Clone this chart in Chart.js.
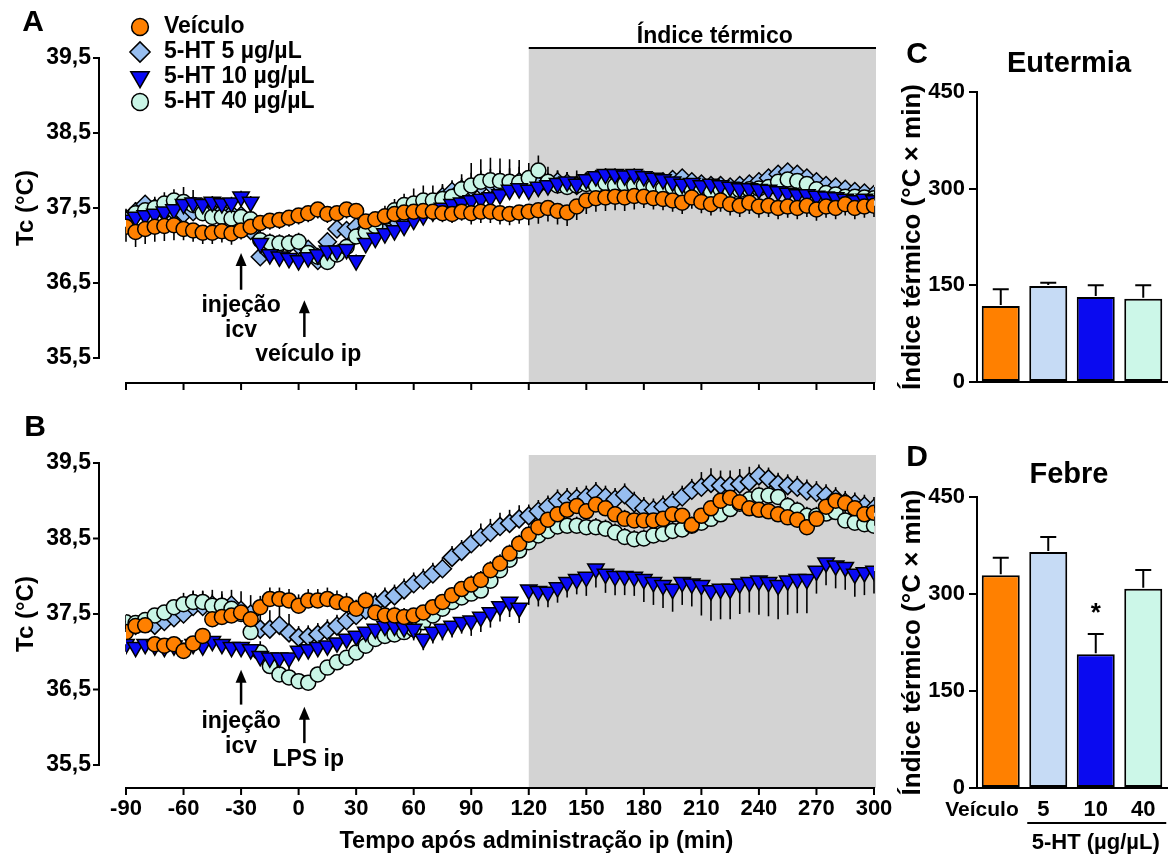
<!DOCTYPE html>
<html>
<head>
<meta charset="utf-8">
<script src="https://cdn.jsdelivr.net/npm/chart.js@4.4.0/dist/chart.umd.min.js"></script>
<style>
  body { margin: 0; background: #fff; width: 1172px; height: 857px; position: relative; overflow: hidden; }
  canvas { position: absolute; }
</style>
</head>
<body>
<canvas id="chartA" width="900" height="400" style="left:0;top:0"></canvas>
<canvas id="chartB" width="900" height="457" style="left:0;top:400px"></canvas>
<canvas id="chartC" width="292" height="400" style="left:880px;top:0"></canvas>
<canvas id="chartD" width="292" height="457" style="left:880px;top:400px"></canvas>
<script>
// tempo apos administracao ip (min), uma leitura a cada 5 min
var tempo = [-90,-85,-80,-75,-70,-65,-60,-55,-50,-45,-40,-35,-30,-25,-20,-15,-10,-5,
  0,5,10,15,20,25,30,35,40,45,50,55,60,65,70,75,80,85,90,95,100,105,110,115,
  120,125,130,135,140,145,150,155,160,165,170,175,180,185,190,195,200,205,
  210,215,220,225,230,235,240,245,250,255,260,265,270,275,280,285,290,295,300];
var xTicks = [-90,-60,-30,0,30,60,90,120,150,180,210,240,270,300];
var yTicks = [35.5,36.5,37.5,38.5,39.5];

// A - eutermia (veiculo ip)
var veiculoA = [
  37.25,37.18,37.22,37.25,37.26,37.27, 37.22,37.20,37.17,37.17,37.19,37.16,
  37.20,37.25,37.30,37.33,37.34,37.37, 37.40,37.43,37.48,37.42,37.43,37.48,
  37.46,37.32,37.35,37.39,37.42,37.44, 37.45,37.46,37.45,37.43,37.42,37.45,
  37.43,37.45,37.45,37.43,37.42,37.44, 37.45,37.47,37.50,37.46,37.44,37.52,
  37.60,37.63,37.64,37.65,37.64,37.66, 37.65,37.63,37.62,37.60,37.57,37.64,
  37.58,37.55,37.60,37.55,37.53,37.57, 37.52,37.53,37.50,37.52,37.50,37.53,
  37.48,37.52,37.50,37.55,37.50,37.52, 37.53];
var ht5A = [
  37.35,37.45,37.55,37.50,37.45,37.45, 37.42,37.45,37.48,37.45,37.45,37.42,
  37.40,37.20,36.85,36.90,37.00,37.02, 37.00,36.95,36.80,37.05,37.22,37.20,
  37.25,37.22,37.28,37.32,37.35,37.40, 37.45,37.50,37.55,37.65,37.72,37.75,
  37.77,37.80,37.82,37.80,37.83,37.85, 37.85,37.80,37.82,37.85,37.83,37.80,
  37.85,37.88,37.90,37.88,37.85,37.86, 37.85,37.83,37.85,37.88,37.90,37.85,
  37.82,37.80,37.80,37.78,37.80,37.82, 37.85,37.90,37.95,37.98,37.95,37.90,
  37.85,37.80,37.78,37.75,37.72,37.70, 37.68];
var ht10A = [
  37.34,37.38,37.40,37.42,37.45,37.48, 37.55,37.57,37.55,37.58,37.56,37.57,
  37.65,37.58,37.03,36.88,36.85,36.83, 36.80,36.84,36.88,36.93,36.93,36.95,
  36.80,37.03,37.10,37.16,37.20,37.26, 37.34,37.40,37.45,37.50,37.55,37.57,
  37.60,37.62,37.64,37.68,37.74,37.76, 37.74,37.78,37.80,37.83,37.85,37.82,
  37.88,37.92,37.95,37.95,37.93,37.95, 37.92,37.90,37.88,37.85,37.82,37.83,
  37.80,37.82,37.80,37.78,37.76,37.76, 37.75,37.74,37.72,37.70,37.68,37.68,
  37.66,37.65,37.64,37.62,37.60,37.62, 37.60];
var ht40A = [
  37.34,37.43,37.47,37.50,37.56,37.60, 37.58,37.54,37.43,37.38,37.38,37.36,
  37.38,37.35,37.07,37.04,37.03,37.03, 37.05,36.90,36.85,36.78,36.88,36.98,
  37.12,37.18,37.26,37.38,37.47,37.54, 37.56,37.60,37.60,37.62,37.65,37.75,
  37.80,37.85,37.87,37.86,37.85,37.84, 37.90,38.00,37.85,37.80,37.78,37.80,
  37.82,37.80,37.83,37.80,37.82,37.80, 37.80,37.78,37.76,37.78,37.75,37.74,
  37.74,37.72,37.75,37.72,37.74,37.75, 37.76,37.78,37.85,37.88,37.86,37.82,
  37.75,37.70,37.68,37.65,37.65,37.64, 37.63];

// B - febre (LPS ip)
var veiculoB = [
  37.26,37.34,37.35,37.10,37.08,37.10, 37.01,37.11,37.21,37.43,37.46,37.48,
  37.52,37.43,37.59,37.70,37.70,37.68, 37.61,37.68,37.68,37.70,37.66,37.63,
  37.57,37.68,37.52,37.48,37.48,37.46, 37.48,37.52,37.59,37.66,37.75,37.83,
  37.89,37.95,38.08,38.17,38.30,38.43, 38.55,38.65,38.75,38.82,38.88,38.93,
  38.86,38.95,38.90,38.82,38.76,38.74, 38.74,38.74,38.76,38.82,38.80,38.68,
  38.80,38.90,39.00,39.04,38.98,38.90, 38.88,38.86,38.82,38.78,38.75,38.65,
  38.76,38.92,39.00,38.97,38.90,38.82, 38.84];
var ht5B = [
  37.30,37.35,37.38,37.35,37.40,37.45, 37.50,37.60,37.60,37.62,37.60,37.62,
  37.55,37.50,37.30,37.30,37.35,37.25, 37.19,37.20,37.23,37.28,37.34,37.41,
  37.48,37.55,37.63,37.70,37.74,37.82, 37.90,37.95,38.03,38.10,38.25,38.33,
  38.43,38.52,38.58,38.66,38.70,38.76, 38.80,38.86,38.92,39.00,39.02,39.03,
  39.05,39.10,39.05,39.02,39.08,38.97, 38.90,38.88,38.92,38.98,39.05,39.14,
  39.18,39.23,39.20,39.20,39.22,39.25, 39.33,39.29,39.22,39.20,39.18,39.13,
  39.11,39.07,39.03,38.98,38.96,38.93, 38.90];
var ht10B = [
  37.10,37.06,37.10,37.08,37.06,37.08, 37.05,37.10,37.08,37.14,37.10,37.06,
  37.06,37.03,36.94,36.92,36.92,36.92, 37.01,37.03,37.06,37.08,37.12,37.17,
  37.21,37.26,37.30,37.34,37.34,37.32, 37.30,37.17,37.26,37.30,37.34,37.39,
  37.41,37.46,37.52,37.60,37.66,37.58, 37.82,37.80,37.79,37.85,37.92,37.96,
  37.99,38.10,38.03,38.00,38.00,37.99, 37.96,37.92,37.88,37.83,37.92,37.90,
  37.88,37.81,37.83,37.83,37.90,37.92, 37.94,37.92,37.88,37.94,37.96,37.96,
  38.07,38.18,38.14,38.12,38.03,38.05, 38.07];
var ht40B = [
  37.39,37.38,37.42,37.48,37.52,37.59, 37.63,37.66,37.66,37.61,37.61,37.57,
  37.50,37.26,36.99,36.81,36.70,36.66, 36.61,36.59,36.70,36.79,36.86,36.92,
  36.99,37.08,37.17,37.21,37.23,37.26, 37.30,37.39,37.48,37.57,37.66,37.72,
  37.77,37.81,37.94,38.08,38.22,38.34, 38.45,38.54,38.60,38.66,38.67,38.67,
  38.65,38.65,38.63,38.58,38.52,38.49, 38.50,38.54,38.56,38.60,38.62,38.67,
  38.71,38.76,38.82,38.89,38.96,39.02, 39.07,39.07,39.05,38.93,38.87,38.80,
  38.80,38.83,38.85,38.74,38.71,38.69, 38.67];

// EPM por bloco de 30 min (13 blocos)
var epmA = [
  [0.20,0.15,0.12,0.12,0.12,0.12,0.15,0.18,0.18,0.15,0.15,0.15,0.15],
  [0.12,0.12,0.10,0.10,0.12,0.15,0.20,0.15,0.12,0.10,0.10,0.12,0.10],
  [0.08,0.08,0.08,0.08,0.08,0.10,0.10,0.10,0.08,0.08,0.08,0.08,0.08],
  [0.15,0.20,0.12,0.12,0.15,0.20,0.30,0.20,0.12,0.10,0.12,0.15,0.10]];
var epmB = [
  [0.10,0.10,0.15,0.15,0.12,0.10,0.12,0.12,0.12,0.10,0.10,0.10,0.10],
  [0.10,0.20,0.25,0.15,0.15,0.15,0.18,0.15,0.15,0.15,0.20,0.15,0.15],
  [0.10,0.10,0.10,0.10,0.10,0.15,0.20,0.20,0.25,0.30,0.40,0.45,0.30],
  [0.10,0.15,0.15,0.10,0.10,0.10,0.12,0.12,0.12,0.12,0.12,0.12,0.12]];

// C e D - indice termico
var grupos = ["Veículo", "5", "10", "40"];
var eutermia = [118, 149, 132, 129];
var eutermiaEpm = [26, 5, 18, 21];
var febre = [329, 365, 207, 308];
var febreEpm = [27, 23, 31, 29];
var barTicks = [0, 150, 300, 450];

var FONTE = "'Liberation Sans', Arial, Helvetica, sans-serif";
Chart.defaults.font.family = FONTE;
Chart.defaults.font.weight = "bold";
Chart.defaults.color = "#000";

var estilos = [
  { label: "Veículo", cor: "#FF8000", forma: "circle", r: 7.5, rot: 0 },
  { label: "5-HT 5 µg/µL", cor: "#97BEF0", forma: "rectRot", r: 9, rot: 0 },
  { label: "5-HT 10 µg/µL", cor: "#0A0AF5", forma: "triangle", r: 9.5, rot: 180 },
  { label: "5-HT 40 µg/µL", cor: "#C9F5E6", forma: "circle", r: 7.5, rot: 0 },
];
var coresBarras = ["#FF8000", "#C6DBF5", "#0A0AF0", "#CCF7E8"];

function texto(ctx, s, x, y, size, align) {
  ctx.save();
  ctx.fillStyle = "#000";
  ctx.font = "bold " + size + "px " + FONTE;
  ctx.textAlign = align || "center";
  ctx.textBaseline = "middle";
  ctx.fillText(s, x, y);
  ctx.restore();
}

function marcador(ctx, e, x, y, k) {
  var r = e.r * k;
  ctx.save();
  ctx.fillStyle = e.cor;
  ctx.strokeStyle = "#000";
  ctx.lineWidth = 1.5;
  ctx.beginPath();
  if (e.forma == "circle") {
    ctx.arc(x, y, r, 0, Math.PI * 2);
  } else if (e.forma == "rectRot") {
    ctx.moveTo(x - r, y); ctx.lineTo(x, y - r); ctx.lineTo(x + r, y); ctx.lineTo(x, y + r);
    ctx.closePath();
  } else {
    var h = r * Math.sin(Math.PI / 3);
    ctx.moveTo(x, y + r); ctx.lineTo(x - h, y - r / 2); ctx.lineTo(x + h, y - r / 2);
    ctx.closePath();
  }
  ctx.fill();
  ctx.stroke();
  ctx.restore();
}

function seta(ctx, x, yTopo, yBase) {
  ctx.save();
  ctx.strokeStyle = "#000";
  ctx.fillStyle = "#000";
  ctx.lineWidth = 2.5;
  ctx.beginPath(); ctx.moveTo(x, yBase); ctx.lineTo(x, yTopo + 10); ctx.stroke();
  ctx.beginPath(); ctx.moveTo(x, yTopo); ctx.lineTo(x - 5.5, yTopo + 13); ctx.lineTo(x + 5.5, yTopo + 13);
  ctx.closePath(); ctx.fill();
  ctx.restore();
}

function linha(id, series, epm, dir, cfg) {
  var ordem = [0, 3, 1, 2];
  var painel = {
    id: "painel",
    beforeDatasetsDraw: function (chart) {
      var ctx = chart.ctx, xs = chart.scales.x, ys = chart.scales.y, a = chart.chartArea;
      // faixa do indice termico
      ctx.save();
      ctx.fillStyle = "#D3D3D3";
      var x0 = xs.getPixelForValue(120), x1 = xs.getPixelForValue(300) + 2;
      var y0 = ys.getPixelForValue(39.5) - cfg.cinza, y1 = a.bottom + cfg.xoff;
      ctx.fillRect(x0, y0, x1 - x0, y1 - y0);
      // barras de erro
      ctx.strokeStyle = "#000";
      ctx.lineWidth = 1.6;
      series.forEach(function (s, k) {
        s.forEach(function (v, i) {
          var e = epm[k][Math.min(12, Math.floor(i / 6))];
          var x = xs.getPixelForValue(tempo[i]);
          ctx.beginPath();
          ctx.moveTo(x, ys.getPixelForValue(v));
          ctx.lineTo(x, ys.getPixelForValue(v + dir[k] * e));
          ctx.stroke();
        });
      });
      ctx.restore();
    },
    afterDraw: function (chart) {
      var ctx = chart.ctx, xs = chart.scales.x, ys = chart.scales.y, a = chart.chartArea;
      ctx.save();
      ctx.strokeStyle = "#000";
      ctx.lineWidth = 2;
      // eixo y separado
      var ax = a.left - 27;
      ctx.beginPath();
      ctx.moveTo(ax, ys.getPixelForValue(39.5) - 1);
      ctx.lineTo(ax, ys.getPixelForValue(35.5) + 1);
      yTicks.forEach(function (v) {
        var y = ys.getPixelForValue(v);
        ctx.moveTo(ax, y); ctx.lineTo(ax - 6, y);
      });
      // eixo x separado
      var ay = a.bottom + cfg.xoff;
      ctx.moveTo(xs.getPixelForValue(-90) - 1, ay);
      ctx.lineTo(xs.getPixelForValue(300) + 1, ay);
      xTicks.forEach(function (t) {
        var x = xs.getPixelForValue(t);
        ctx.moveTo(x, ay); ctx.lineTo(x, ay + 7);
      });
      ctx.stroke();
      if (cfg.indice) {
        var yl = ys.getPixelForValue(39.5) - cfg.cinza;
        ctx.beginPath();
        ctx.moveTo(xs.getPixelForValue(120), yl);
        ctx.lineTo(xs.getPixelForValue(300) + 2, yl);
        ctx.stroke();
        texto(ctx, "Índice térmico", xs.getPixelForValue(217), yl - 11, 23);
      }
      ctx.restore();
      if (cfg.rotulosX) {
        texto(ctx, "Tempo após administração ip (min)", xs.getPixelForValue(124), a.bottom + 77, 23.5);
      }
      // setas
      seta(ctx, xs.getPixelForValue(-30), ys.getPixelForValue(cfg.seta1[0]), ys.getPixelForValue(cfg.seta1[1]));
      texto(ctx, "injeção", xs.getPixelForValue(-30), ys.getPixelForValue(cfg.seta1[2]), 23);
      texto(ctx, "icv", xs.getPixelForValue(-30), ys.getPixelForValue(cfg.seta1[3]), 23);
      seta(ctx, xs.getPixelForValue(3), ys.getPixelForValue(cfg.seta2[0]), ys.getPixelForValue(cfg.seta2[1]));
      texto(ctx, cfg.rotulo2, xs.getPixelForValue(5), ys.getPixelForValue(cfg.seta2[2]), 23);
      // letra do painel
      texto(ctx, cfg.letra, cfg.letraPos[0], cfg.letraPos[1], 30);
      if (cfg.legenda) {
        estilos.forEach(function (e, k) {
          var y = 27 + k * 25;
          marcador(ctx, e, 140, y, 1.12);
          texto(ctx, e.label, 164, y, 23, "left");
        });
      }
    }
  };
  return new Chart(document.getElementById(id), {
    type: "line",
    data: {
      datasets: series.map(function (s, k) {
        return {
          label: estilos[k].label,
          data: tempo.map(function (t, i) { return { x: t, y: s[i] }; }),
          showLine: false,
          pointStyle: estilos[k].forma,
          pointRadius: estilos[k].r,
          pointRotation: estilos[k].rot,
          pointBackgroundColor: estilos[k].cor,
          pointBorderColor: "#000",
          pointBorderWidth: 1.5,
          order: ordem[k],
        };
      }),
    },
    options: {
      animation: false,
      responsive: false,
      devicePixelRatio: 1,
      events: [],
      layout: { padding: { left: 0, right: 26, top: cfg.top, bottom: 0 } },
      plugins: { legend: { display: false }, tooltip: { enabled: false } },
      scales: {
        x: {
          type: "linear",
          min: -90,
          max: 300,
          afterBuildTicks: function (s) { s.ticks = xTicks.map(function (v) { return { value: v }; }); },
          afterFit: function (s) { s.height = cfg.xh; },
          grid: { display: false, drawTicks: true, tickLength: 27 },
          border: { display: false },
          ticks: { display: cfg.rotulosX, padding: 4, maxRotation: 0, autoSkip: false, font: { size: 22, weight: "bold" } },
        },
        y: {
          min: 35.5,
          max: 39.5,
          afterBuildTicks: function (s) { s.ticks = yTicks.map(function (v) { return { value: v }; }); },
          afterFit: function (s) { s.width = 126; },
          grid: { display: false, drawTicks: true, tickLength: 31 },
          border: { display: false },
          ticks: {
            padding: 4,
            font: { size: 23, weight: "bold" },
            callback: function (v) { return v.toFixed(1).replace(".", ","); },
          },
          title: { display: true, text: "Tc (°C)", font: { size: 24, weight: "bold" }, padding: { top: 12 } },
        },
      },
    },
    plugins: [painel],
  });
}

function barras(id, valores, epm, cfg) {
  var extra = {
    id: "extra",
    afterDatasetsDraw: function (chart) {
      var ctx = chart.ctx, xs = chart.scales.x, ys = chart.scales.y, a = chart.chartArea;
      ctx.save();
      ctx.strokeStyle = "#000";
      ctx.lineWidth = 2;
      valores.forEach(function (v, i) {
        var x = xs.getPixelForValue(i);
        var yt = ys.getPixelForValue(v + epm[i]);
        ctx.beginPath();
        ctx.moveTo(x, ys.getPixelForValue(v) - 1);
        ctx.lineTo(x, yt);
        ctx.moveTo(x - 8, yt);
        ctx.lineTo(x + 8, yt);
        ctx.stroke();
      });
      ctx.restore();
      var cx = (a.left + a.right) / 2;
      texto(ctx, cfg.titulo, cx - 3, cfg.tituloY, 29);
      texto(ctx, cfg.letra, 37, cfg.letraY, 30);
      if (cfg.rotulos) {
        var yl = a.bottom + 22;
        texto(ctx, grupos[0], xs.getPixelForValue(0) + 18, yl, 21, "right");
        texto(ctx, grupos[1], xs.getPixelForValue(1) - 5, yl, 22);
        texto(ctx, grupos[2], xs.getPixelForValue(2), yl, 22);
        texto(ctx, grupos[3], xs.getPixelForValue(3), yl, 22);
        ctx.save();
        ctx.strokeStyle = "#000";
        ctx.lineWidth = 2;
        ctx.beginPath();
        ctx.moveTo(xs.getPixelForValue(1) - 21, a.bottom + 35);
        ctx.lineTo(xs.getPixelForValue(3) + 23, a.bottom + 35);
        ctx.stroke();
        ctx.restore();
        texto(ctx, "5-HT (µg/µL)", (xs.getPixelForValue(1) + xs.getPixelForValue(3)) / 2, a.bottom + 55, 22);
        var ys2 = ys.getPixelForValue(valores[2] + epm[2]) - 20;
        texto(ctx, "*", xs.getPixelForValue(2), ys2, 26);
      }
    },
  };
  return new Chart(document.getElementById(id), {
    type: "bar",
    data: {
      labels: grupos,
      datasets: [{
        data: valores,
        backgroundColor: coresBarras,
        borderColor: "#000",
        borderWidth: 2,
        borderSkipped: false,
        barPercentage: 0.8,
        categoryPercentage: 1,
      }],
    },
    options: {
      animation: false,
      responsive: false,
      devicePixelRatio: 1,
      events: [],
      layout: { padding: { left: 0, right: 5, top: cfg.top, bottom: 0 } },
      plugins: { legend: { display: false }, tooltip: { enabled: false } },
      scales: {
        x: {
          afterFit: function (s) { s.height = cfg.xh; },
          grid: { display: false },
          border: { display: true, color: "#000", width: 2 },
          ticks: { display: false },
        },
        y: {
          min: 0,
          max: 450,
          afterBuildTicks: function (s) { s.ticks = barTicks.map(function (v) { return { value: v }; }); },
          afterFit: function (s) { s.width = 97; },
          grid: { display: true, drawOnChartArea: false, drawTicks: true, tickLength: 8, color: "#000", lineWidth: 2 },
          border: { display: true, color: "#000", width: 2 },
          ticks: { padding: 4, font: { size: 22, weight: "bold" } },
          title: { display: true, text: "Índice térmico (°C × min)", font: { size: 26, weight: "bold" }, padding: { top: 17 } },
        },
      },
    },
    plugins: [extra],
  });
}

var chartA = linha("chartA", [veiculoA, ht5A, ht10A, ht40A], epmA, [-1, 1, 1, 1], {
  top: 58, xh: 42, xoff: 25, cinza: 10, indice: true, rotulosX: false,
  seta1: [36.9, 36.41, 36.2, 35.87], seta2: [36.27, 35.78, 35.54], rotulo2: "veículo ip",
  letra: "A", letraPos: [33, 23], legenda: true,
});
var chartB = linha("chartB", [veiculoB, ht5B, ht10B, ht40B], epmB, [1, 1, -1, 1], {
  top: 63, xh: 92, xoff: 23, cinza: 8, indice: false, rotulosX: true,
  seta1: [36.76, 36.3, 36.08, 35.74], seta2: [36.27, 35.79, 35.57], rotulo2: "LPS ip",
  letra: "B", letraPos: [35, 28], legenda: false,
});
var chartC = barras("chartC", eutermia, eutermiaEpm, {
  top: 92, xh: 18, titulo: "Eutermia", tituloY: 64, letra: "C", letraY: 55, rotulos: false,
});
var chartD = barras("chartD", febre, febreEpm, {
  top: 97, xh: 69, titulo: "Febre", tituloY: 75, letra: "D", letraY: 58, rotulos: true,
});
</script>
</body>
</html>
